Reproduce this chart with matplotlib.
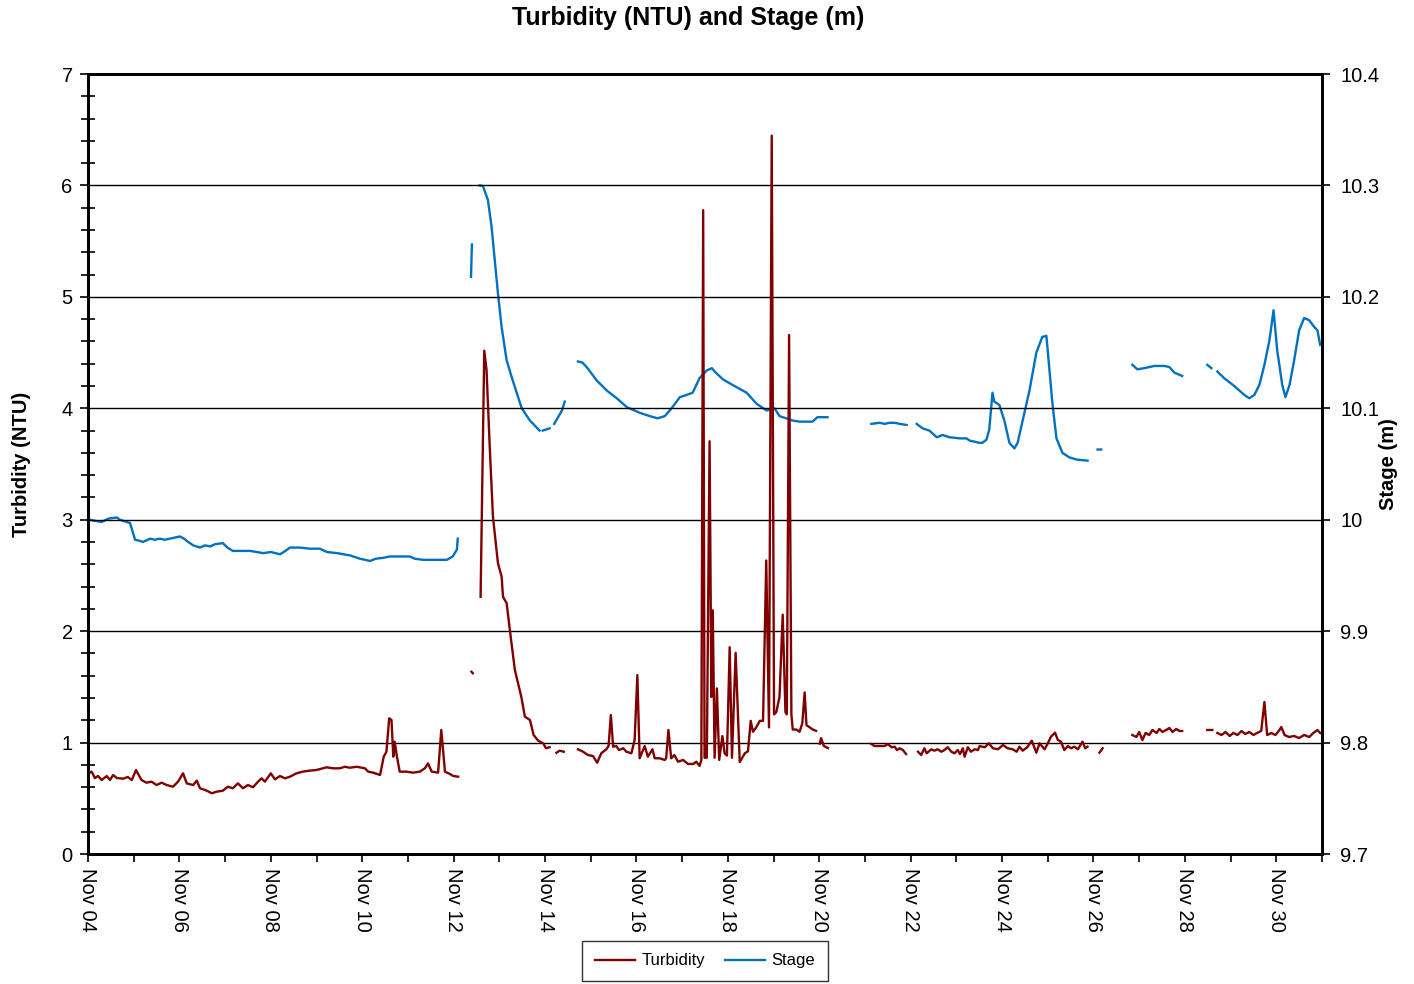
import matplotlib
matplotlib.use("Agg")
import matplotlib.pyplot as plt
import matplotlib.dates as mdates
import matplotlib.ticker as mticker
import numpy as np
from datetime import datetime

plt.rcParams['font.family'] = ['Liberation Sans', 'DejaVu Sans']

nan = np.nan
start = datetime(2008, 11, 4)
end = datetime(2008, 12, 1)

# days since start of record; nan marks a logger gap
turb_days = [
    0.01, 0.08, 0.15, 0.22, 0.30, 0.41, 0.48, 0.55, 0.63, 0.77, 0.87, 0.96, 1.05, 1.17, 1.28,
    1.39, 1.50, 1.61, 1.72, 1.86, 1.97, 2.08, 2.16, 2.30, 2.38, 2.45, 2.60, 2.71, 2.81, 2.95,
    3.06, 3.17, 3.28, 3.39, 3.50, 3.61, 3.72, 3.80, 3.87, 4.00, 4.09, 4.20, 4.31, 4.42, 4.56,
    4.70, 4.85, 5.00, 5.22, 5.36, 5.51, 5.62, 5.73, 5.88, 6.06, 6.13, 6.24, 6.39, 6.47, 6.53,
    6.59, 6.64, 6.68, 6.71, 6.76, 6.82, 6.97, 7.11, 7.26, 7.37, 7.44, 7.52, 7.66, 7.73, 7.81,
    7.92, 7.99, 8.10, nan,
    8.39, 8.42, nan,
    8.59, 8.67, 8.72, 8.79, 8.86, 8.97, 9.05, 9.08, 9.16, 9.23, 9.34, 9.41, 9.48, 9.56, 9.67,
    9.75, 9.85, 9.96, 10.02, 10.10, nan,
    10.25, 10.32, 10.41, nan,
    10.72, 10.83, 10.94, 11.05, 11.14, 11.23, 11.34, 11.39, 11.44, 11.49, 11.56, 11.62, 11.71,
    11.78, 11.89, 11.96, 12.02, 12.07, 12.18, 12.25, 12.35, 12.40, 12.51, 12.62, 12.65, 12.70,
    12.76, 12.83, 12.91, 13.02, 13.13, 13.24, 13.31, 13.38, 13.42, 13.46, 13.49, 13.54, 13.60,
    13.64, 13.67, 13.71, 13.76, 13.81, 13.88, 13.93, 13.98, 14.04, 14.09, 14.17, 14.26, 14.37,
    14.44, 14.50, 14.55, 14.62, 14.70, 14.77, 14.84, 14.90, 14.96, 15.01, 15.06, 15.13, 15.20,
    15.26, 15.29, 15.34, 15.39, 15.42, 15.50, 15.57, 15.63, 15.68, 15.72, 15.79, 15.86, 15.93, nan,
    16.01, 16.04, 16.10, 16.19, nan,
    17.14, 17.21, 17.32, 17.43, 17.50, 17.58, 17.65, 17.70, 17.76, 17.83, 17.90, nan,
    18.16, 18.23, 18.30, 18.35, 18.45, 18.52, 18.59, 18.67, 18.74, 18.81, 18.89, 18.96, 19.03,
    19.08, 19.14, 19.18, 19.25, 19.32, 19.40, 19.47, 19.51, 19.62, 19.71, 19.80, 19.91, 20.02,
    20.12, 20.23, 20.32, 20.38, 20.45, 20.55, 20.65, 20.75, 20.82, 20.93, 21.00, 21.07, 21.16,
    21.22, 21.29, 21.36, 21.44, 21.51, 21.58, 21.66, 21.76, 21.82, 21.87, nan,
    22.13, 22.20, nan,
    22.85, 22.94, 23.00, 23.07, 23.14, 23.22, 23.29, 23.38, 23.44, 23.51, 23.59, 23.66, 23.73,
    23.81, 23.88, 23.94, nan,
    24.49, 24.60, nan,
    24.71, 24.80, 24.89, 24.98, 25.06, 25.15, 25.24, 25.32, 25.41, 25.50, 25.58, 25.67, 25.74,
    25.80, 25.89, 25.98, 26.07, 26.11, 26.18, 26.28, 26.39, 26.50, 26.61, 26.72, 26.81, 26.90, 26.96,
]
turb_ntu = [
    0.724, 0.739, 0.682, 0.700, 0.664, 0.700, 0.664, 0.709, 0.682, 0.676, 0.691, 0.664, 0.754, 0.664, 0.640,
    0.649, 0.619, 0.640, 0.619, 0.604, 0.649, 0.724, 0.634, 0.619, 0.658, 0.590, 0.568, 0.545, 0.559, 0.568,
    0.604, 0.590, 0.634, 0.590, 0.619, 0.599, 0.649, 0.679, 0.649, 0.724, 0.670, 0.700, 0.679, 0.694, 0.724,
    0.739, 0.748, 0.754, 0.778, 0.769, 0.769, 0.783, 0.774, 0.783, 0.769, 0.739, 0.730, 0.709, 0.873, 0.918,
    1.218, 1.203, 0.873, 1.008, 0.873, 0.739, 0.739, 0.730, 0.739, 0.769, 0.813, 0.739, 0.730, 1.113, 0.739,
    0.718, 0.700, 0.694, nan,
    1.636, 1.622, nan,
    2.308, 4.517, 4.343, 3.655, 3.027, 2.609, 2.489, 2.309, 2.250, 2.010, 1.651, 1.532, 1.412, 1.232, 1.203,
    1.068, 1.017, 0.993, 0.949, 0.958, nan,
    0.909, 0.927, 0.918, nan,
    0.940, 0.918, 0.888, 0.879, 0.819, 0.904, 0.940, 0.969, 1.247, 0.963, 0.969, 0.933, 0.949,
    0.918, 0.904, 1.023, 1.606, 0.859, 0.969, 0.873, 0.940, 0.859, 0.859, 0.844, 0.859, 1.113,
    0.859, 0.888, 0.828, 0.844, 0.808, 0.808, 0.828, 0.790, 0.844, 5.778, 0.864, 0.864, 3.704,
    1.409, 2.187, 0.864, 1.486, 0.844, 1.058, 0.903, 0.883, 1.856, 0.864, 1.805, 0.825, 0.903,
    0.922, 1.195, 1.097, 1.136, 1.195, 1.195, 2.634, 1.136, 6.447, 1.253, 1.273, 1.409, 2.148,
    1.273, 1.253, 4.658, 1.253, 1.117, 1.117, 1.097, 1.175, 1.450, 1.156, 1.136, 1.117, 1.105, nan,
    0.990, 1.040, 0.970, 0.950, nan,
    0.987, 0.969, 0.969, 0.969, 0.987, 0.958, 0.963, 0.933, 0.949, 0.933, 0.897, nan,
    0.918, 0.888, 0.949, 0.904, 0.939, 0.927, 0.940, 0.918, 0.933, 0.958, 0.918, 0.904, 0.933,
    0.897, 0.949, 0.873, 0.958, 0.918, 0.940, 0.933, 0.969, 0.958, 0.993, 0.949, 0.940, 0.978,
    0.949, 0.940, 0.918, 0.963, 0.927, 0.958, 1.017, 0.909, 0.993, 0.940, 0.993, 1.053, 1.089,
    1.023, 1.008, 0.933, 0.969, 0.949, 0.963, 0.940, 1.008, 0.949, 0.963, nan,
    0.909, 0.949, nan,
    1.068, 1.050, 1.095, 1.023, 1.086, 1.068, 1.113, 1.086, 1.122, 1.095, 1.113, 1.131, 1.095,
    1.122, 1.104, 1.104, nan,
    1.113, 1.113, nan,
    1.086, 1.068, 1.095, 1.059, 1.086, 1.068, 1.104, 1.077, 1.095, 1.068, 1.086, 1.104, 1.364,
    1.068, 1.086, 1.068, 1.113, 1.140, 1.068, 1.050, 1.059, 1.041, 1.068, 1.050, 1.086, 1.113, 1.086,
]

stage_days = [
    0.04, 0.15, 0.30, 0.45, 0.63, 0.70, 0.85, 0.92, 1.03, 1.14, 1.20, 1.36, 1.46, 1.57, 1.68,
    1.79, 1.90, 2.01, 2.10, 2.16, 2.30, 2.45, 2.56, 2.67, 2.78, 2.95, 3.05, 3.17, 3.35, 3.54,
    3.70, 3.83, 4.00, 4.20, 4.32, 4.42, 4.55, 4.64, 4.85, 5.07, 5.23, 5.45, 5.73, 5.95, 6.17,
    6.30, 6.49, 6.60, 6.80, 7.04, 7.15, 7.33, 7.60, 7.85, 7.98, 8.07, 8.09, nan,
    8.38, 8.40, nan,
    8.57, 8.64, 8.75, 8.83, 8.90, 8.97, 9.05, 9.16, 9.27, 9.38, 9.49, 9.67, 9.88, nan,
    9.95, 10.10, nan,
    10.20, 10.30, 10.37, 10.43, nan,
    10.72, 10.82, 10.93, 11.13, 11.35, 11.57, 11.79, 12.07, 12.29, 12.46, 12.62, 12.77, 12.95,
    13.10, 13.23, 13.38, 13.54, 13.65, 13.71, 13.89, 14.10, 14.41, 14.63, 14.85, 15.02, 15.13,
    15.42, 15.57, 15.85, 15.96, 16.18, nan,
    17.14, 17.32, 17.43, 17.54, 17.65, 17.76, 17.91, nan,
    18.13, 18.26, 18.41, 18.57, 18.70, 18.85, 19.07, 19.22, 19.29, 19.51, 19.57, 19.66, 19.72,
    19.79, 19.83, 19.94, 20.05, 20.16, 20.27, 20.34, 20.45, 20.60, 20.75, 20.88, 20.97, 21.10,
    21.19, 21.32, 21.47, 21.63, 21.87, nan,
    22.09, 22.17, nan,
    22.85, 22.96, 23.11, 23.33, 23.55, 23.66, 23.77, 23.94, nan,
    24.49, 24.58, nan,
    24.71, 24.86, 25.08, 25.30, 25.41, 25.52, 25.63, 25.74, 25.85, 25.94, 26.02, 26.13, 26.20,
    26.29, 26.39, 26.50, 26.61, 26.72, 26.83, 26.90, 26.96,
]
stage_m = [
    10.000, 9.999, 9.998, 10.001, 10.002, 10.000, 9.998, 9.997, 9.982, 9.981, 9.980, 9.983, 9.982, 9.983, 9.982,
    9.983, 9.984, 9.985, 9.983, 9.981, 9.977, 9.975, 9.977, 9.976, 9.978, 9.979, 9.975, 9.972, 9.972, 9.972,
    9.971, 9.970, 9.971, 9.969, 9.972, 9.975, 9.975, 9.975, 9.974, 9.974, 9.971, 9.970, 9.968, 9.965, 9.963,
    9.965, 9.966, 9.967, 9.967, 9.967, 9.965, 9.964, 9.964, 9.964, 9.967, 9.973, 9.983, nan,
    10.218, 10.247, nan,
    10.300, 10.2995, 10.287, 10.263, 10.233, 10.203, 10.173, 10.143, 10.128, 10.114, 10.100, 10.089, 10.080, nan,
    10.080, 10.082, nan,
    10.086, 10.093, 10.098, 10.106, nan,
    10.142, 10.141, 10.136, 10.125, 10.116, 10.109, 10.101, 10.096, 10.093, 10.091, 10.093, 10.100, 10.110,
    10.112, 10.114, 10.127, 10.134, 10.136, 10.133, 10.126, 10.121, 10.114, 10.104, 10.098, 10.100, 10.093,
    10.089, 10.088, 10.088, 10.092, 10.092, nan,
    10.086, 10.087, 10.086, 10.087, 10.087, 10.086, 10.085, nan,
    10.086, 10.082, 10.080, 10.074, 10.076, 10.074, 10.073, 10.073, 10.071, 10.069, 10.069, 10.072, 10.081,
    10.114, 10.106, 10.103, 10.089, 10.069, 10.064, 10.069, 10.089, 10.116, 10.150, 10.164, 10.165, 10.105,
    10.073, 10.060, 10.056, 10.054, 10.053, nan,
    10.063, 10.063, nan,
    10.139, 10.135, 10.136, 10.138, 10.138, 10.137, 10.132, 10.129, nan,
    10.139, 10.136, nan,
    10.133, 10.127, 10.120, 10.112, 10.109, 10.112, 10.121, 10.139, 10.161, 10.188, 10.152, 10.121, 10.110,
    10.121, 10.143, 10.170, 10.181, 10.179, 10.173, 10.170, 10.157,
]

t0 = mdates.date2num(start)
turb_x = t0 + np.array(turb_days)
stage_x = t0 + np.array(stage_days)

W, H = 1414, 984
fig = plt.figure(figsize=(W / 100, H / 100), dpi=100)
ax = fig.add_axes([88 / W, 130 / H, (1322 - 88) / W, (854 - 74) / H])
ax2 = ax.twinx()

# turbidity sits above stage, so raise the left axes and hide its patch
ax.set_zorder(ax2.get_zorder() + 1)
ax.patch.set_visible(False)

l2, = ax2.plot(stage_x, stage_m, color='#0070C0', lw=1.7, label='Stage')
l1, = ax.plot(turb_x, turb_ntu, color='#800000', lw=1.7, label='Turbidity')

ax.set_xlim(t0, mdates.date2num(end))
ax.set_ylim(0, 7)
ax2.set_ylim(9.7, 10.4)

ax.xaxis.set_major_locator(mdates.DayLocator(bymonthday=range(2, 32, 2)))
ax.xaxis.set_minor_locator(mdates.DayLocator())
ax.xaxis.set_major_formatter(mdates.DateFormatter('%b %d'))

ax.yaxis.set_major_locator(mticker.MultipleLocator(1))
ax.yaxis.set_minor_locator(mticker.MultipleLocator(0.2))
ax2.yaxis.set_major_locator(mticker.FixedLocator([9.7 + 0.1 * k for k in range(8)]))
ax2.yaxis.set_major_formatter(mticker.FuncFormatter(lambda v, p: '{:g}'.format(round(v, 1))))

ax.yaxis.grid(True, which='major', color='black', lw=1)
ax.set_axisbelow(True)

ax.tick_params(axis='x', which='both', direction='out', length=6, width=1.2,
               labelsize=14.5, pad=4)
ax.tick_params(axis='y', which='major', direction='out', length=6, width=1.2,
               labelsize=14.5, pad=5)
ax.tick_params(axis='y', which='minor', direction='inout', length=10, width=1.2)
ax2.tick_params(axis='y', which='major', direction='out', length=6, width=1.2,
                labelsize=14.5, pad=7)
plt.setp(ax.get_xticklabels(), rotation=-90, ha='center', va='top')

for a in (ax, ax2):
    for s in a.spines.values():
        s.set_linewidth(2)
        s.set_color('black')

ax.set_ylabel('Turbidity (NTU)', fontsize=14.5, fontweight='bold', labelpad=22)
ax2.set_ylabel('Stage (m)', fontsize=14.5, fontweight='bold', labelpad=0)

fig.text(688 / W, 1 - 6 / H, 'Turbidity (NTU) and Stage (m)', ha='center', va='top',
         fontsize=18, fontweight='bold')

leg = fig.legend([l1, l2], ['Turbidity', 'Stage'], loc='lower center', ncol=2,
                 bbox_to_anchor=(705 / W, -0.002), frameon=True, fancybox=False,
                 edgecolor='black', fontsize=12, handlelength=2.4, handletextpad=0.4,
                 columnspacing=1.2, borderpad=0.75, borderaxespad=0.3)
leg.get_frame().set_linewidth(1)

fig.savefig('out.png', dpi=100)
